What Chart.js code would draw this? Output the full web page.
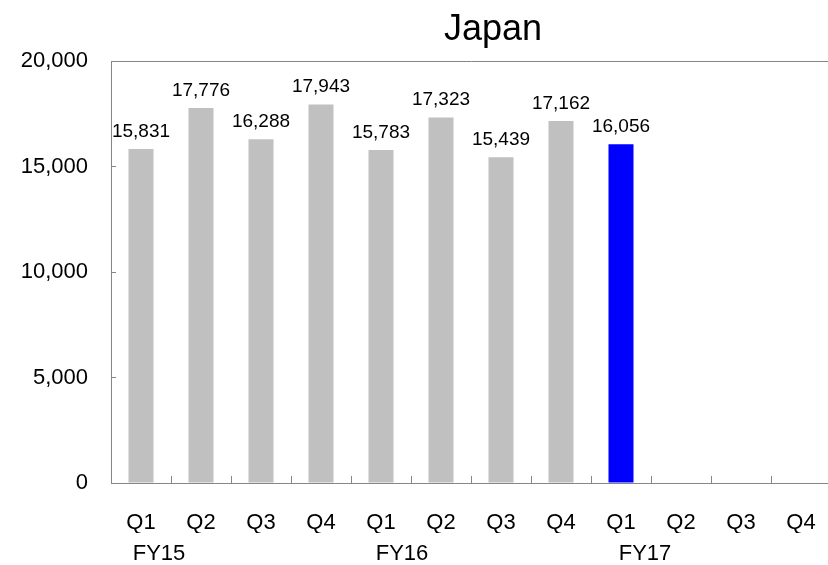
<!DOCTYPE html>
<html lang="en">
<head>
    <meta charset="UTF-8">
    <title>Japan</title>
    <style>
        html, body {
            margin: 0;
            padding: 0;
            background-color: #ffffff;
            overflow: hidden;
        }
    </style>
</head>
<body>
    <canvas id="chart1" width="831" height="565"></canvas>

    <script src="https://cdn.jsdelivr.net/npm/chart.js"></script>
    <script>
        var chartTitle = 'Japan';
        var quarters = ['Q1', 'Q2', 'Q3', 'Q4', 'Q1', 'Q2', 'Q3', 'Q4', 'Q1', 'Q2', 'Q3', 'Q4'];
        var values = [15831, 17776, 16288, 17943, 15783, 17323, 15439, 17162, 16056, null, null, null];
        var barColors = ['#c0c0c0', '#c0c0c0', '#c0c0c0', '#c0c0c0', '#c0c0c0', '#c0c0c0', '#c0c0c0', '#c0c0c0', '#0000ff', '#c0c0c0', '#c0c0c0', '#c0c0c0'];
        var fiscalYears = ['FY15', 'FY16', 'FY17'];
        var fiscalYearPos = [0.3, 4.35, 8.4];   // label spot on the quarter index scale
        var yTicks = [0, 5000, 10000, 15000, 20000];

        var font = 'Liberation Sans, Arial, sans-serif';
        var axisColor = '#868686';

        function fmt(v) {
            return Number(v).toLocaleString('en-US');
        }

        // keep horizontal axes from shrinking the plot for edge labels
        function noSidePad(axis) {
            axis.paddingLeft = 0;
            axis.paddingRight = 0;
        }

        // title sits a bit right of canvas centre, so draw it by hand
        var titlePlugin = {
            id: 'titleText',
            afterDraw: function(chart) {
                var ctx = chart.ctx;
                ctx.save();
                ctx.font = '36px ' + font;
                ctx.fillStyle = '#000';
                ctx.textAlign = 'center';
                ctx.textBaseline = 'alphabetic';
                ctx.fillText(chartTitle, 493, 40);
                ctx.restore();
            }
        };

        // value labels above the bars
        var valueLabels = {
            id: 'valueLabels',
            afterDatasetsDraw: function(chart) {
                var ctx = chart.ctx;
                var meta = chart.getDatasetMeta(0);
                ctx.save();
                ctx.font = '19px ' + font;
                ctx.fillStyle = '#000';
                ctx.textAlign = 'center';
                ctx.textBaseline = 'alphabetic';
                meta.data.forEach(function(bar, i) {
                    if (values[i] == null) return;
                    ctx.fillText(fmt(values[i]), bar.x, bar.y - 12);
                });
                ctx.restore();
            }
        };

        var ctx = document.getElementById('chart1').getContext('2d');
        new Chart(ctx, {
            type: 'bar',
            data: {
                labels: quarters,
                datasets: [{
                    data: values,
                    backgroundColor: barColors,
                    borderWidth: 0,
                    categoryPercentage: 1,
                    barPercentage: 0.417,
                    xAxisID: 'x',
                    yAxisID: 'y'
                }]
            },
            options: {
                responsive: false,
                animation: false,
                devicePixelRatio: 1,
                layout: { padding: { top: 61, right: 0, bottom: 0, left: 0 } },
                plugins: {
                    legend: { display: false },
                    title: { display: false },
                    tooltip: { enabled: false }
                },
                scales: {
                    y: {
                        position: 'left',
                        min: 0,
                        max: 20000,
                        afterBuildTicks: function(axis) {
                            axis.ticks = yTicks.map(function(v) { return { value: v }; });
                        },
                        afterFit: function(axis) {
                            axis.width = 111;
                            axis.paddingTop = 0;
                            axis.paddingBottom = 0;
                        },
                        ticks: {
                            color: '#000',
                            font: { family: font, size: 22 },
                            padding: 28,
                            callback: function(v) { return fmt(v); }
                        },
                        grid: {
                            display: true,
                            drawOnChartArea: false,
                            drawTicks: true,
                            tickLength: -5,
                            color: axisColor,
                            tickColor: axisColor
                        },
                        border: { display: true, color: axisColor, width: 1 }
                    },
                    x: {
                        type: 'category',
                        position: 'bottom',
                        offset: true,
                        afterFit: function(axis) {
                            axis.height = 50;
                            noSidePad(axis);
                        },
                        ticks: {
                            color: '#000',
                            font: { family: font, size: 22 },
                            padding: 34,
                            autoSkip: false,
                            maxRotation: 0
                        },
                        grid: {
                            display: true,
                            offset: true,
                            drawOnChartArea: false,
                            drawTicks: true,
                            tickLength: -7,
                            color: axisColor,
                            tickColor: axisColor
                        },
                        border: { display: true, color: axisColor, width: 1 }
                    },
                    fy: {
                        type: 'linear',
                        position: 'bottom',
                        offset: false,
                        min: -0.5,
                        max: 11.5,
                        afterBuildTicks: function(axis) {
                            axis.ticks = fiscalYearPos.map(function(v) { return { value: v }; });
                        },
                        afterFit: function(axis) {
                            axis.height = 32;
                            noSidePad(axis);
                        },
                        ticks: {
                            color: '#000',
                            font: { family: font, size: 22 },
                            padding: 8,
                            autoSkip: false,
                            maxRotation: 0,
                            callback: function(v, i) { return fiscalYears[i]; }
                        },
                        grid: { display: false, drawTicks: false },
                        border: { display: false }
                    },
                    topLine: {
                        type: 'category',
                        position: 'top',
                        labels: [],
                        afterFit: function(axis) {
                            axis.height = 0;
                            noSidePad(axis);
                        },
                        ticks: { display: false },
                        grid: { display: false, drawTicks: false },
                        border: { display: true, color: axisColor, width: 1 }
                    }
                }
            },
            plugins: [titlePlugin, valueLabels]
        });
    </script>
</body>
</html>
